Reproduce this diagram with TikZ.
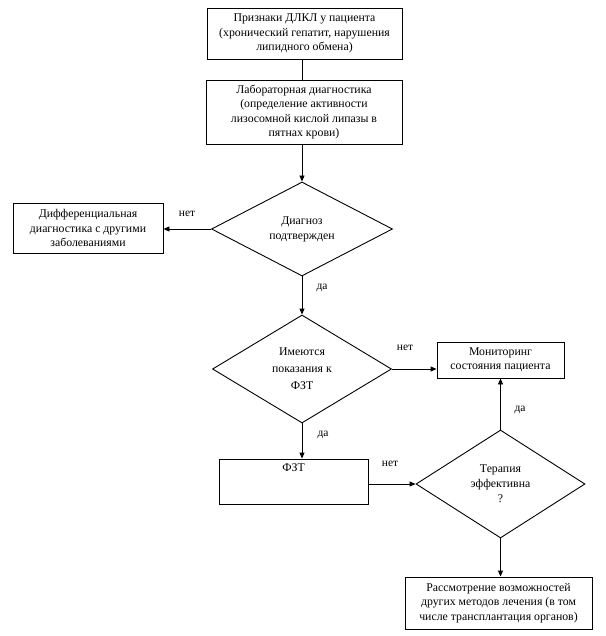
\documentclass[tikz,border=0pt]{standalone}
\usepackage{fontspec}
\setmainfont{Liberation Serif}
\usetikzlibrary{shapes.geometric,arrows.meta}
\begin{document}
\begin{tikzpicture}[x=1pt,y=-1pt,
  box/.style={draw,line width=0.9pt,align=center,inner sep=2pt,font=\fontsize{11.8}{14.5}\selectfont},
  dec/.style={draw,diamond,line width=0.9pt,inner sep=0pt,align=center,font=\fontsize{11.8}{15}\selectfont},
  arr/.style={line width=0.9pt,-{Triangle[length=6pt,width=5pt]}},
  ln/.style={line width=0.9pt},
  lbl/.style={font=\fontsize{11.5}{12}\selectfont,inner sep=0pt}]
\useasboundingbox (0,0) rectangle (605,636);
\fill[white] (0,0) rectangle (605,636);

\node[box,minimum width=195pt,minimum height=51pt] (b1) at (304.5,33.5)
  {Признаки ДЛКЛ у пациента\\(хронический гепатит, нарушения\\липидного обмена)};
\node[box,minimum width=196pt,minimum height=64pt] (b2) at (304,112)
  {Лабораторная диагностика\\(определение активности\\лизосомной кислой липазы в\\пятнах крови)};
\node[dec,minimum width=181pt,minimum height=94pt] (d1) at (302,229)
  {Диагноз\\подтвержден};
\node[box,minimum width=150pt,minimum height=50pt] (diff) at (88,228)
  {Дифференциальная\\диагностика с другими\\заболеваниями};
\node[dec,minimum width=179pt,minimum height=108pt,font=\fontsize{11.8}{17}\selectfont] (d2) at (302,369)
  {Имеются\\показания к\\ФЗТ};
\node[box,minimum width=127pt,minimum height=36pt] (mon) at (500.5,360)
  {Мониторинг\\состояния пациента};
\node[box,minimum width=149pt,minimum height=45pt,
  label={[anchor=north,inner sep=0pt,yshift=-5pt,font=\fontsize{11.8}{14.5}\selectfont]north:ФЗТ}] (fzt) at (293.5,481.5) {};
\node[dec,minimum width=169pt,minimum height=108pt] (d3) at (500.5,484)
  {Терапия\\эффективна\\?};
\node[box,minimum width=187pt,minimum height=52pt] (fin) at (498.5,603)
  {Рассмотрение возможностей\\других методов лечения (в том\\числе трансплантация органов)};

\draw[ln] (b1.south -| d1.north) -- (b2.north -| d1.north);
\draw[arr] (b2.south -| d1.north) -- (d1.north);
\draw[arr] (d1.west) -- (d1.west -| diff.east);
\draw[arr] (d1.south) -- (d2.north);
\draw[arr] (d2.east) -- (d2.east -| mon.west);
\draw[arr] (d2.south) -- (d2.south |- fzt.north);
\draw[arr] (d3.west -| fzt.east) -- (d3.west);
\draw[arr] (d3.north) -- (d3.north |- mon.south);
\draw[arr] (d3.south) -- (d3.south |- fin.north);

\node[lbl] (l1) at (187,214) {нет};
\node[lbl] (l2) at (322,288) {да};
\node[lbl] (l3) at (405,348) {нет};
\node[lbl] (l4) at (323,435) {да};
\node[lbl] (l5) at (390,464) {нет};
\node[lbl] (l6) at (520,410) {да};
\end{tikzpicture}
\end{document}
